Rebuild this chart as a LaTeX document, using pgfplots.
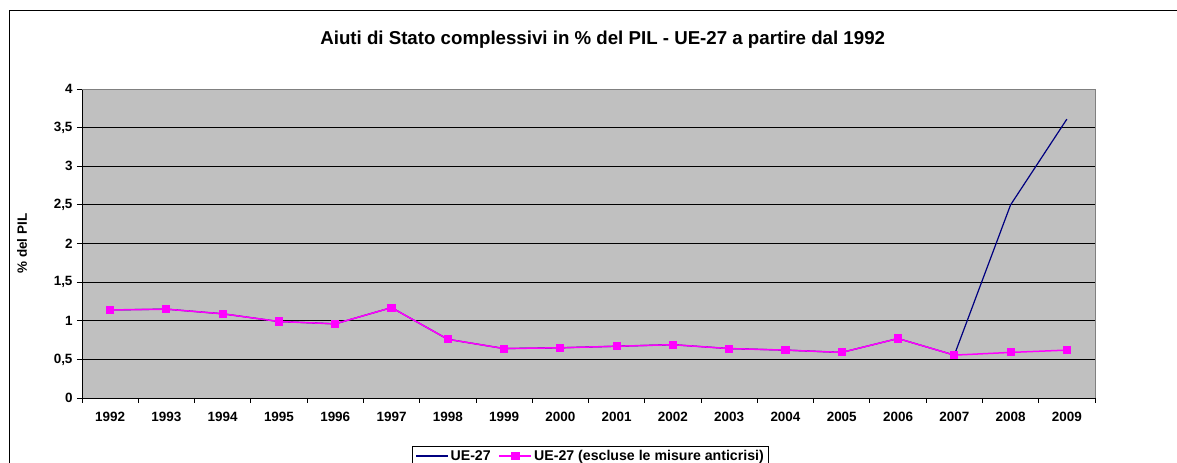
\documentclass[border=0pt]{standalone}
\usepackage{pgfplots}
\pgfplotsset{compat=1.18}
\usepackage{fontspec}
\setmainfont{Liberation Sans}
\definecolor{bgray}{HTML}{C0C0C0}
\definecolor{navyline}{HTML}{000080}
\definecolor{magline}{HTML}{FF00FF}
\pgfplotstableread{
x y
0 1.14
1 1.15
2 1.09
3 0.99
4 0.96
5 1.17
6 0.76
7 0.64
8 0.65
9 0.67
10 0.69
11 0.64
12 0.62
13 0.59
14 0.77
15 0.555
16 2.50
17 3.61
}\ueall
\pgfplotstableread{
x y
0 1.14
1 1.15
2 1.09
3 0.99
4 0.96
5 1.17
6 0.76
7 0.64
8 0.65
9 0.67
10 0.69
11 0.64
12 0.62
13 0.59
14 0.77
15 0.555
16 0.59
17 0.62
}\ueexcl
\begin{document}
\begin{tikzpicture}
\path[use as bounding box] (0,0) rectangle (1177bp,463bp);
\draw[black, line width=1bp] (9.5bp,-5bp) -- (9.5bp,452.5bp) -- (1190bp,452.5bp);
\begin{axis}[
  at={(82bp,65bp)}, anchor=south west,
  width=1013bp, height=309bp, scale only axis,
  xmin=-0.5, xmax=17.5, ymin=0, ymax=4,
  axis background/.style={fill=bgray},
  axis x line*=bottom, axis y line*=left,
  axis line style={-, black, line width=0.8bp},
  after end axis/.code={\draw[gray, line width=0.8bp] (rel axis cs:0,1) -- (rel axis cs:1,1) -- (rel axis cs:1,0);},
  xtick={0,...,17},
  xticklabels={1992,1993,1994,1995,1996,1997,1998,1999,2000,2001,2002,2003,2004,2005,2006,2007,2008,2009},
  minor xtick={-0.5,0.5,...,17.5},
  major x tick style={draw=none},
  minor x tick style={black, line width=0.8bp},
  minor tick length=5bp,
  ytick={0,0.5,...,4},
  major tick length=5bp,
  y tick style={black, line width=0.8bp},
  tick align=outside,
  ymajorgrids, grid style={black, line width=0.8bp},
  /pgf/number format/use comma,
  /pgf/number format/assume math mode=true,
  tick label style={font=\bfseries\fontsize{13.5}{15}\selectfont},
  xticklabel style={yshift=-6bp},
  yticklabel style={xshift=-1bp},
  title={Aiuti di Stato complessivi in \% del PIL - UE-27 a partire dal 1992},
  title style={font=\bfseries\fontsize{18.75}{22}\selectfont, at={(axis description cs:0.514,1)}, anchor=center, yshift=43bp},
  ylabel={\% del PIL},
  ylabel style={font=\bfseries\fontsize{13.5}{15}\selectfont, at={(axis description cs:-0.0592,0.5)}, anchor=center},
  legend columns=2,
  legend style={at={(axis description cs:0.3258,-0.1544)}, anchor=north west, draw=black, line width=0.8bp, fill=white,
    font=\bfseries\fontsize{14.2}{16}\selectfont, inner xsep=3bp, inner ysep=2bp,
    /tikz/every even column/.append style={column sep=6bp}},
  legend image code/.code={\draw[mark repeat=2,mark phase=2,#1] plot coordinates {(0bp,0bp) (16bp,0bp) (32bp,0bp)};},
]
\addplot[navyline, line width=1.2bp, mark=none] table[x=x,y=y] {\ueall};
\addlegendentry{UE-27}
\addplot[magline, line width=1.5bp, mark=square*, mark size=3.3bp, mark options={fill=magline, draw=magline}] table[x=x,y=y] {\ueexcl};
\addlegendentry{UE-27 (escluse le misure anticrisi)}
\end{axis}
\end{tikzpicture}
\end{document}
